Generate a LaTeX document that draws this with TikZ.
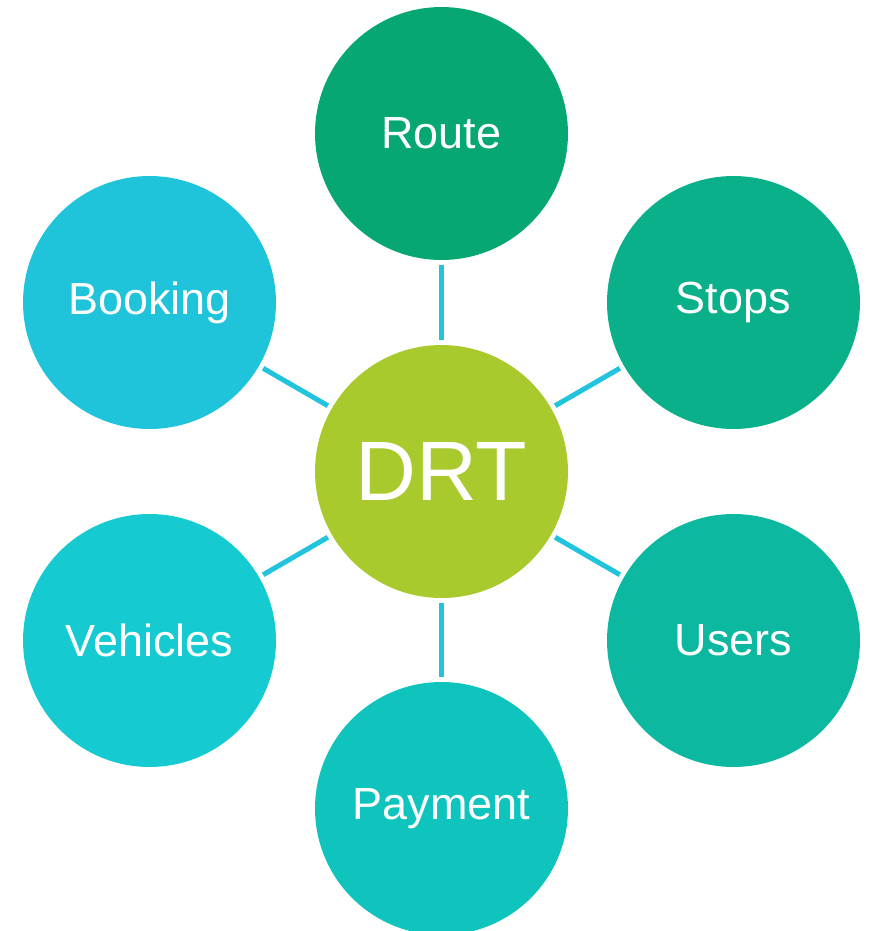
\documentclass[tikz,border=0pt]{standalone}
\usepackage{fontspec}
\setmainfont{Liberation Sans}
\usepackage{xcolor}

\definecolor{drtgreen}{HTML}{A8CA2C}
\definecolor{routecol}{HTML}{07A773}
\definecolor{stopscol}{HTML}{0AB08A}
\definecolor{userscol}{HTML}{0CB89F}
\definecolor{paycol}{HTML}{0EC4BC}
\definecolor{vehcol}{HTML}{15CBD1}
\definecolor{bookcol}{HTML}{1FC4DA}
\definecolor{linkcol}{HTML}{22C3DC}

\begin{document}
\begin{tikzpicture}[x=0.02cm, y=-0.02cm,
        bubble/.style = {circle, minimum size=5.06cm, inner sep=0pt,
                text=white, font=\fontsize{25.6}{30}\selectfont},
        link/.style = {draw=linkcol, line width=0.1cm,
                shorten <=0.09cm, shorten >=0.09cm}]
    \useasboundingbox (0,0) rectangle (869,931);

    % hub and the six topics around it
    \node[bubble, fill=drtgreen, font=\fontsize{48}{52}\selectfont] (DRT) at (441.5, 471.5) {DRT};
    \node[bubble, fill=routecol] (R) at (441.5, 133.5) {Route};
    \node[bubble, fill=stopscol] (S) at (733.5, 302.5) {Stops};
    \node[bubble, fill=userscol] (U) at (733.5, 640.5) {Users};
    \node[bubble, fill=paycol]   (P) at (441.5, 808.5) {Payment};
    \node[bubble, fill=vehcol]   (V) at (149.5, 640.5) {Vehicles};
    \node[bubble, fill=bookcol]  (B) at (149.5, 302.5) {Booking};

    % spokes
    \foreach \n in {R, S, U, P, V, B}
        \path[link] (DRT) -- (\n);
\end{tikzpicture}
\end{document}
